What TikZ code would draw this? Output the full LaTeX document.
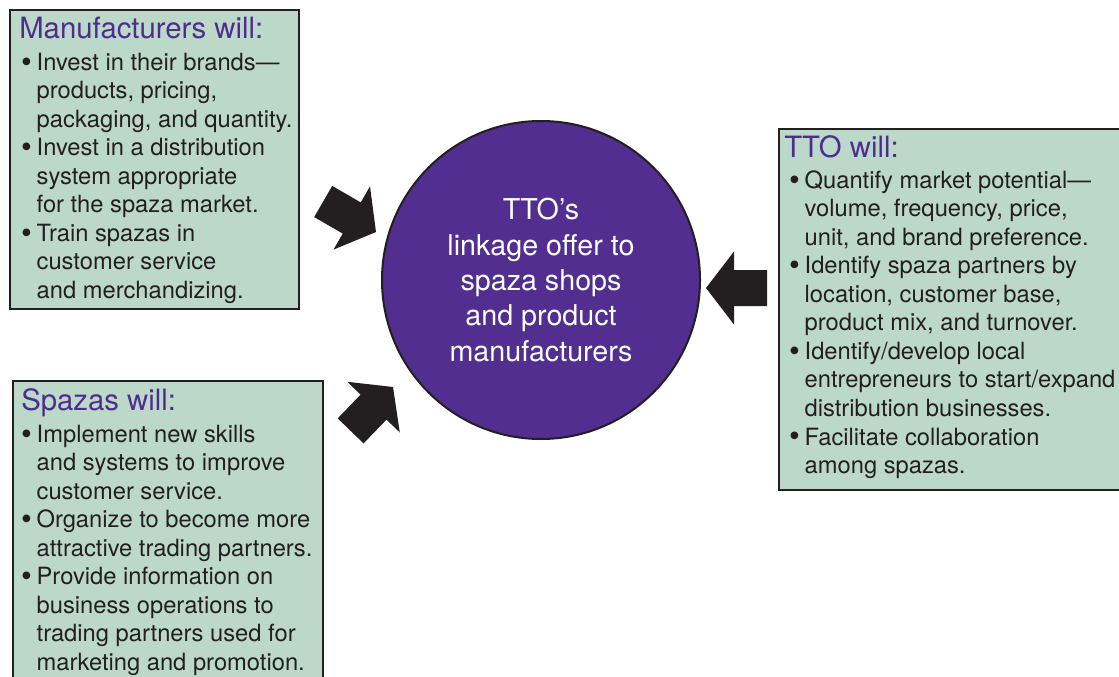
\documentclass[tikz,border=0pt]{standalone}
\usepackage{fontspec}
\setmainfont{TeX Gyre Heros}
\usetikzlibrary{positioning}

\definecolor{boxgreen}{HTML}{BCD8C9}
\definecolor{headpurple}{HTML}{4E2D8E}
\definecolor{hubpurple}{HTML}{522E91}
\definecolor{inkgray}{HTML}{231F20}

\newlength\bulw
\setlength\bulw{10.8pt}
\newcommand{\bul}{\makebox[\bulw][l]{\hspace{-0.8pt}\raisebox{-0.08em}{\scalebox{1.3}{\textbullet}}}}
\newcommand{\hang}{\hspace*{\bulw}}
\def\px{0.75pt}

\tikzset{
  pics/blockarrow/.style={code={
    \fill[inkgray] (0,0) -- (-28,-36.5) -- (-28,-18) -- (-61,-18)
      -- (-61,18) -- (-28,18) -- (-28,36.5) -- cycle;
  }}
}

\begin{document}
\begin{tikzpicture}[x=0.75pt, y=-0.75pt,
  infobox/.style={draw=inkgray, line width=1.5pt, fill=boxgreen, anchor=north west, inner sep=0pt},
  boxhead/.style={anchor=base west, inner sep=0pt, text=headpurple, font=\fontsize{22}{26}\selectfont},
  boxbody/.style={anchor=north west, inner sep=0pt, align=left, text=inkgray, font=\fontsize{17.8}{21.4}\selectfont},
  hub/.style={circle, draw=inkgray, line width=1.5pt, fill=hubpurple, text=white, align=center,
    inner sep=0pt, font=\fontsize{21.5}{26.6}\selectfont}]

	\clip (0,0) rectangle (1119,677);

	% manufacturers
	\node[infobox, minimum width=289*\px, minimum height=299*\px] (manubox) at (9,9) {};
	\node[boxhead] (manuhead) at (19,39) {Manufacturers will:};
	\node[boxbody] (manubody) at (22,50) {\strut\bul Invest in their brands—\\
		\hang products, pricing,\\
		\hang packaging, and quantity.\\
		\bul Invest in a distribution\\
		\hang system appropriate\\
		\hang for the spaza market.\\
		\bul Train spazas in\\
		\hang customer service\\
		\hang and merchandizing.};

	% spazas
	\node[infobox, minimum width=310*\px, minimum height=330*\px] (spazabox) at (12,380) {};
	\node[boxhead] (spazahead) at (21,410) {Spazas will:};
	\node[boxbody] (spazabody) at (22,422) {\strut\bul Implement new skills\\
		\hang and systems to improve\\
		\hang customer service.\\
		\bul Organize to become more\\
		\hang attractive trading partners.\\
		\bul Provide information on\\
		\hang business operations to\\
		\hang trading partners used for\\
		\hang marketing and promotion.};

	% tto
	\node[infobox, minimum width=360*\px, minimum height=361*\px] (ttobox) at (778,128) {};
	\node[boxhead] (ttohead) at (784,158) {TTO will:};
	\node[boxbody] (ttobody) at (790,168) {\strut\bul Quantify market potential—\\
		\hang volume, frequency, price,\\
		\hang unit, and brand preference.\\
		\bul Identify spaza partners by\\
		\hang location, customer base,\\
		\hang product mix, and turnover.\\
		\bul Identify/develop local\\
		\hang entrepreneurs to start/expand\\
		\hang distribution businesses.\\
		\bul Facilitate collaboration\\
		\hang among spazas.};

	% linkage offer
	\node[hub, minimum size=318*\px] (hub) at (541,280) {TTO’s\\linkage offer to\\spaza shops\\and product\\manufacturers};

	% arrows into the hub
	\pic[rotate=-30] (manuarrow) at (376,232) {blockarrow};
	\pic[rotate=46] (spazaarrow) at (393,387) {blockarrow};
	\pic[rotate=180] (ttoarrow) at (706,288) {blockarrow};

\end{tikzpicture}
\end{document}
